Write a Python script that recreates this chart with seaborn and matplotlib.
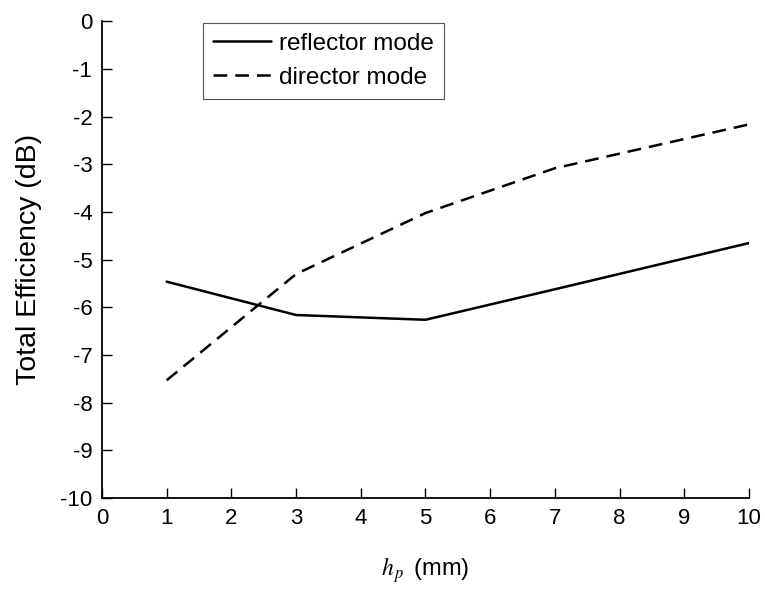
import pandas as pd
import seaborn as sns
import matplotlib.pyplot as plt

# data
hp_mm = [1, 3, 5, 7, 10]
reflector_db = [-5.46, -6.16, -6.26, -5.62, -4.65]
director_db = [-7.53, -5.30, -4.02, -3.08, -2.16]

df = pd.DataFrame({
    'hp': hp_mm * 2,
    'eff': reflector_db + director_db,
    'mode': ['reflector mode'] * len(hp_mm) + ['director mode'] * len(hp_mm),
})

sns.set_style('white')
plt.rcParams['font.family'] = ['Liberation Sans', 'DejaVu Sans']
plt.rcParams['mathtext.fontset'] = 'stix'
plt.rcParams['axes.unicode_minus'] = False
plt.rcParams['text.color'] = 'black'
plt.rcParams['axes.labelcolor'] = 'black'

fig, ax = plt.subplots(figsize=(7.65, 5.92), dpi=100)
fig.subplots_adjust(left=0.1333, right=0.979, top=0.9637, bottom=0.1588)

sns.lineplot(data=df, x='hp', y='eff', hue='mode', style='mode',
             palette=['black', 'black'], dashes=[(None, None), (5.5, 3.2)],
             linewidth=1.8, ax=ax)

ax.set_xlim(0, 10)
ax.set_ylim(-10, 0)
ax.set_xticks(range(0, 11))
ax.set_yticks(range(-10, 1))
ax.tick_params(direction='in', length=7, width=1, labelsize=16, colors='black',
               left=True, bottom=True, pad=7)
sns.despine(ax=ax)
for s in ['left', 'bottom']:
    ax.spines[s].set_color('black')
    ax.spines[s].set_linewidth(1.3)

ax.set_xlabel(r'$h_{\,p}\,$ (mm)', fontsize=17, labelpad=19)
ax.set_ylabel('Total Efficiency (dB)', fontsize=20.5, labelpad=13)

leg = ax.legend(loc='upper left', bbox_to_anchor=(0.156, 0.997), borderaxespad=0,
                fontsize=17.5, handlelength=2.4, handletextpad=0.35, borderpad=0.4,
                labelspacing=0.5, fancybox=False, framealpha=1, edgecolor='#555555')
leg.get_frame().set_linewidth(0.8)

plt.savefig('out.png', dpi=100)
